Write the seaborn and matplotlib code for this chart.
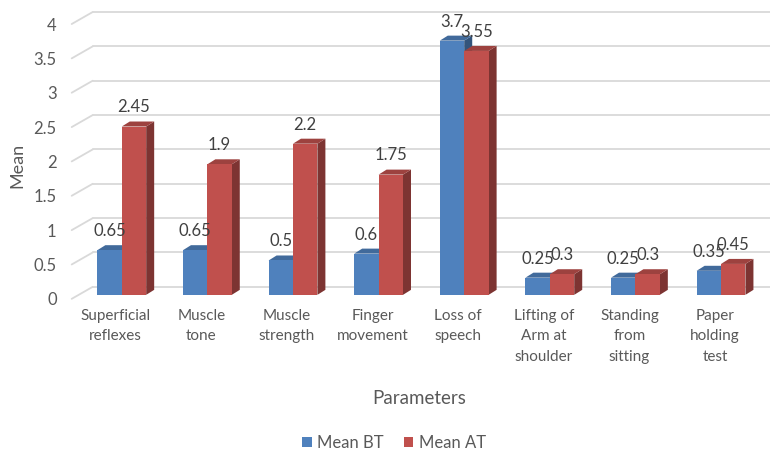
import matplotlib
matplotlib.use("Agg")
import matplotlib.pyplot as plt
import matplotlib.transforms as mtrans
from matplotlib.patches import Polygon
from matplotlib.lines import Line2D
import pandas as pd
import seaborn as sns

# data
params = ["Superficial\nreflexes", "Muscle\ntone", "Muscle\nstrength", "Finger\nmovement",
          "Loss of\nspeech", "Lifting of\nArm at\nshoulder", "Standing\nfrom\nsitting",
          "Paper\nholding\ntest"]
mean_bt = [0.65, 0.65, 0.5, 0.6, 3.7, 0.25, 0.25, 0.35]
mean_at = [2.45, 1.9, 2.2, 1.75, 3.55, 0.3, 0.3, 0.45]
groups = ["Mean BT", "Mean AT"]
yticks = [0, 0.5, 1, 1.5, 2, 2.5, 3, 3.5, 4]
ytick_labels = ["0", "0.5", "1", "1.5", "2", "2.5", "3", "3.5", "4"]

df = pd.DataFrame({
    "Parameter": params * 2,
    "Group": [groups[0]] * len(params) + [groups[1]] * len(params),
    "Mean": mean_bt + mean_at,
})

sns.set_style("white")
plt.rcParams["font.family"] = ["Lato", "DejaVu Sans"]
txt = "#595959"

fig = plt.figure(figsize=(7.7, 4.55), dpi=100)
ax = fig.add_axes([0.097, 0.352, 0.895, 0.604])

blue, red = "#4F81BD", "#C0504D"
sns.barplot(data=df, x="Parameter", y="Mean", hue="Group", palette=[blue, red],
            width=0.57, gap=0, saturation=1, ax=ax, zorder=3, linewidth=0)

ax.set_ylim(0, 4)
ax.set_xlim(-0.55, 7.5)
ax.set_yticks(yticks)
ax.set_yticklabels(ytick_labels)
for s in ax.spines.values():
    s.set_visible(False)
ax.tick_params(axis="both", length=0, colors=txt)
ax.tick_params(axis="x", pad=10, labelsize=11)
ax.tick_params(axis="y", pad=13, labelsize=12)

# pseudo 3D: back wall gridlines
for v in yticks:
    fx, fy = ax.get_yaxis_transform().transform((0, v))
    ax.add_line(Line2D([fx - 3, fx + 18], [fy - 4, fy + 8], transform=mtrans.IdentityTransform(),
                       color="#D9D9D9", lw=1.3, zorder=0, clip_on=False))
    back = ax.get_yaxis_transform() + mtrans.ScaledTranslation(18 / fig.dpi, 8 / fig.dpi, fig.dpi_scale_trans)
    ax.add_line(Line2D([0, 1.02], [v, v], transform=back, color="#D9D9D9", lw=1.3,
                       zorder=0, clip_on=False))

# pseudo 3D: side and top faces of bars
x_unit = ax.transData.transform((1, 0))[0] - ax.transData.transform((0, 0))[0]
y_unit = ax.transData.transform((0, 1))[1] - ax.transData.transform((0, 0))[1]
dx, dy = 8 / x_unit, 5 / y_unit


def shade(c, f):
    r, g, b = matplotlib.colors.to_rgb(c)
    return (r * f, g * f, b * f)


for cont, col in zip(ax.containers, [blue, red]):
    for p in cont.patches:
        x0, w, h = p.get_x(), p.get_width(), p.get_height()
        side = [(x0 + w, 0), (x0 + w + dx, dy), (x0 + w + dx, h + dy), (x0 + w, h)]
        top = [(x0, h), (x0 + dx, h + dy), (x0 + w + dx, h + dy), (x0 + w, h)]
        ax.add_patch(Polygon(side, closed=True, fc=shade(col, 0.65), ec="none", zorder=2))
        ax.add_patch(Polygon(top, closed=True, fc=shade(col, 0.82), ec="none", zorder=2))
    ax.bar_label(cont, labels=[f"{v:g}" for v in cont.datavalues], padding=8,
                 color="#404040", fontsize=12)

# tick label nudges
for lab in ax.get_yticklabels():
    lab.set_transform(lab.get_transform() + mtrans.ScaledTranslation(0, -4 / fig.dpi, fig.dpi_scale_trans))
for lab in ax.get_xticklabels():
    lab.set_linespacing(1.6)
    lab.set_transform(lab.get_transform() + mtrans.ScaledTranslation(-6 / fig.dpi, 0, fig.dpi_scale_trans))

ax.set_xlabel("Parameters", color=txt, fontsize=13.5)
ax.set_ylabel("Mean", color=txt, fontsize=13)
ax.xaxis.set_label_coords(0.5, -0.345)
ax.yaxis.set_label_coords(-0.072, 0.47)

handles, labels = ax.get_legend_handles_labels()
ax.get_legend().remove()
fig.legend(handles, labels, loc="center", bbox_to_anchor=(0.512, 0.026), ncol=2, frameon=False,
           fontsize=12, handlelength=0.55, handleheight=0.55, handletextpad=0.35, columnspacing=1.2,
           labelcolor=txt)

fig.savefig("out.png", dpi=100)
